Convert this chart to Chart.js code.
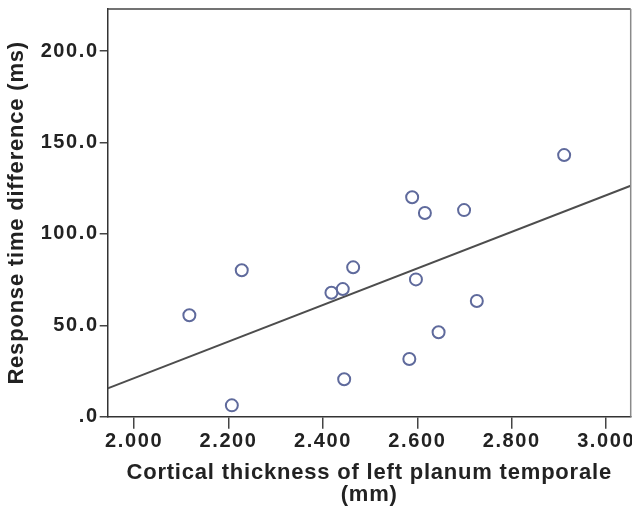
<!DOCTYPE html>
<html>
<head>
<meta charset="utf-8">
<script src="https://cdn.jsdelivr.net/npm/chart.js@4/dist/chart.umd.min.js"></script>
<style>
  html, body { margin: 0; padding: 0; background: #ffffff; }
  #wrap { width: 632px; height: 506px; }
</style>
</head>
<body>
<div id="wrap"><canvas id="c" width="632" height="506"></canvas></div>
<script>
// ---- data ----
const thickness = [2.117, 2.228, 2.207, 2.418, 2.442, 2.464, 2.445, 2.589, 2.616, 2.597, 2.583, 2.645, 2.699, 2.726, 2.911];
const rtDiff    = [55.5, 80.1, 6.2, 67.8, 69.8, 81.7, 20.5, 120.0, 111.4, 75.1, 31.6, 46.2, 113.0, 63.3, 143.1];
const fitSlope = 100.0;
const fitIntercept = -178.9;
const xRange = [1.944, 3.052];
const yRange = [0, 223];
const xTicks = [2.0, 2.2, 2.4, 2.6, 2.8, 3.0];
const xTickLabels = ['2.000', '2.200', '2.400', '2.600', '2.800', '3.000'];
const yTicks = [0, 50, 100, 150, 200];
const yTickLabels = ['.0', '50.0', '100.0', '150.0', '200.0'];
const xTitle = ['Cortical thickness of left planum temporale', '(mm)'];
const yTitle = 'Response time difference (ms)';

const points = thickness.map((x, i) => ({ x: x, y: rtDiff[i] }));
const fitLine = xRange.map(x => ({ x: x, y: fitIntercept + fitSlope * x }));

const FONT = "'Liberation Sans', Arial, sans-serif";
const TICK_SPACING = '1.6px';
const TITLE_SPACING = '0.8px';

const framePlugin = {
  id: 'frame',
  beforeDraw(chart) {
    chart.ctx.letterSpacing = TICK_SPACING;
    Object.values(chart.scales).forEach(s => {
      if (!s._patchedTitle) {
        const orig = s.drawTitle;
        s.drawTitle = function () {
          const ctx = this.ctx;
          const prev = ctx.letterSpacing;
          ctx.letterSpacing = TITLE_SPACING;
          orig.apply(this, arguments);
          ctx.letterSpacing = prev;
        };
        s._patchedTitle = true;
      }
    });
  },
  afterDraw(chart) {
    const { ctx, chartArea: a } = chart;
    ctx.save();
    ctx.lineWidth = 1.5;
    ctx.strokeStyle = '#444444';
    ctx.beginPath();
    ctx.moveTo(a.left, a.top);
    ctx.lineTo(a.right, a.top);
    ctx.stroke();
    ctx.strokeStyle = '#8a8a8a';
    ctx.beginPath();
    ctx.moveTo(a.right, a.top);
    ctx.lineTo(a.right, a.bottom);
    ctx.stroke();
    ctx.restore();
  }
};

new Chart(document.getElementById('c'), {
  type: 'scatter',
  data: {
    datasets: [
      {
        type: 'line',
        data: fitLine,
        borderColor: '#4d4d4d',
        borderWidth: 2,
        pointRadius: 0,
        fill: false,
        order: 2
      },
      {
        data: points,
        pointStyle: 'circle',
        pointRadius: 6,
        pointBorderWidth: 2,
        borderColor: '#5f6a9c',
        backgroundColor: 'rgba(255,255,255,0)',
        order: 1
      }
    ]
  },
  plugins: [framePlugin],
  options: {
    responsive: false,
    animation: false,
    layout: { autoPadding: false, padding: { left: 0, right: 1.3, top: 9, bottom: 0 } },
    plugins: { legend: { display: false }, tooltip: { enabled: false } },
    scales: {
      x: {
        type: 'linear',
        position: 'bottom',
        min: xRange[0],
        max: xRange[1],
        afterBuildTicks: s => { s.ticks = xTicks.map(v => ({ value: v })); },
        afterFit: s => { s.height = 89.3; s.paddingLeft = 0; s.paddingRight = 0; },
        ticks: {
          callback: (v, i) => xTickLabels[i],
          color: '#222222',
          font: { family: FONT, size: 20, weight: 'bold', lineHeight: 1.0 },
          padding: 3,
          maxRotation: 0,
          autoSkip: false
        },
        grid: { drawOnChartArea: false, drawTicks: true, tickLength: 12, color: '#444444', lineWidth: 1.5 },
        border: { display: true, color: '#333333', width: 1.5 },
        title: {
          display: true,
          text: xTitle,
          color: '#222222',
          font: { family: FONT, size: 22, weight: 'bold', lineHeight: 1.0 },
          padding: { top: 0, bottom: 0 }
        }
      },
      y: {
        type: 'linear',
        position: 'left',
        min: yRange[0],
        max: yRange[1],
        afterBuildTicks: s => { s.ticks = yTicks.map(v => ({ value: v })); },
        afterFit: s => { s.width = 107.7; s.paddingTop = 0; s.paddingBottom = 0; },
        ticks: {
          callback: (v, i) => yTickLabels[i],
          color: '#222222',
          font: { family: FONT, size: 20, weight: 'bold', lineHeight: 1.0 },
          padding: 1,
          autoSkip: false
        },
        grid: { drawOnChartArea: false, drawTicks: true, tickLength: 8, color: '#444444', lineWidth: 1.5 },
        border: { display: true, color: '#333333', width: 1.5 },
        title: {
          display: true,
          text: yTitle,
          color: '#222222',
          font: { family: FONT, size: 22, weight: 'bold', lineHeight: 1.0 },
          padding: { top: 6, bottom: 0 }
        }
      }
    }
  }
});
</script>
</body>
</html>
